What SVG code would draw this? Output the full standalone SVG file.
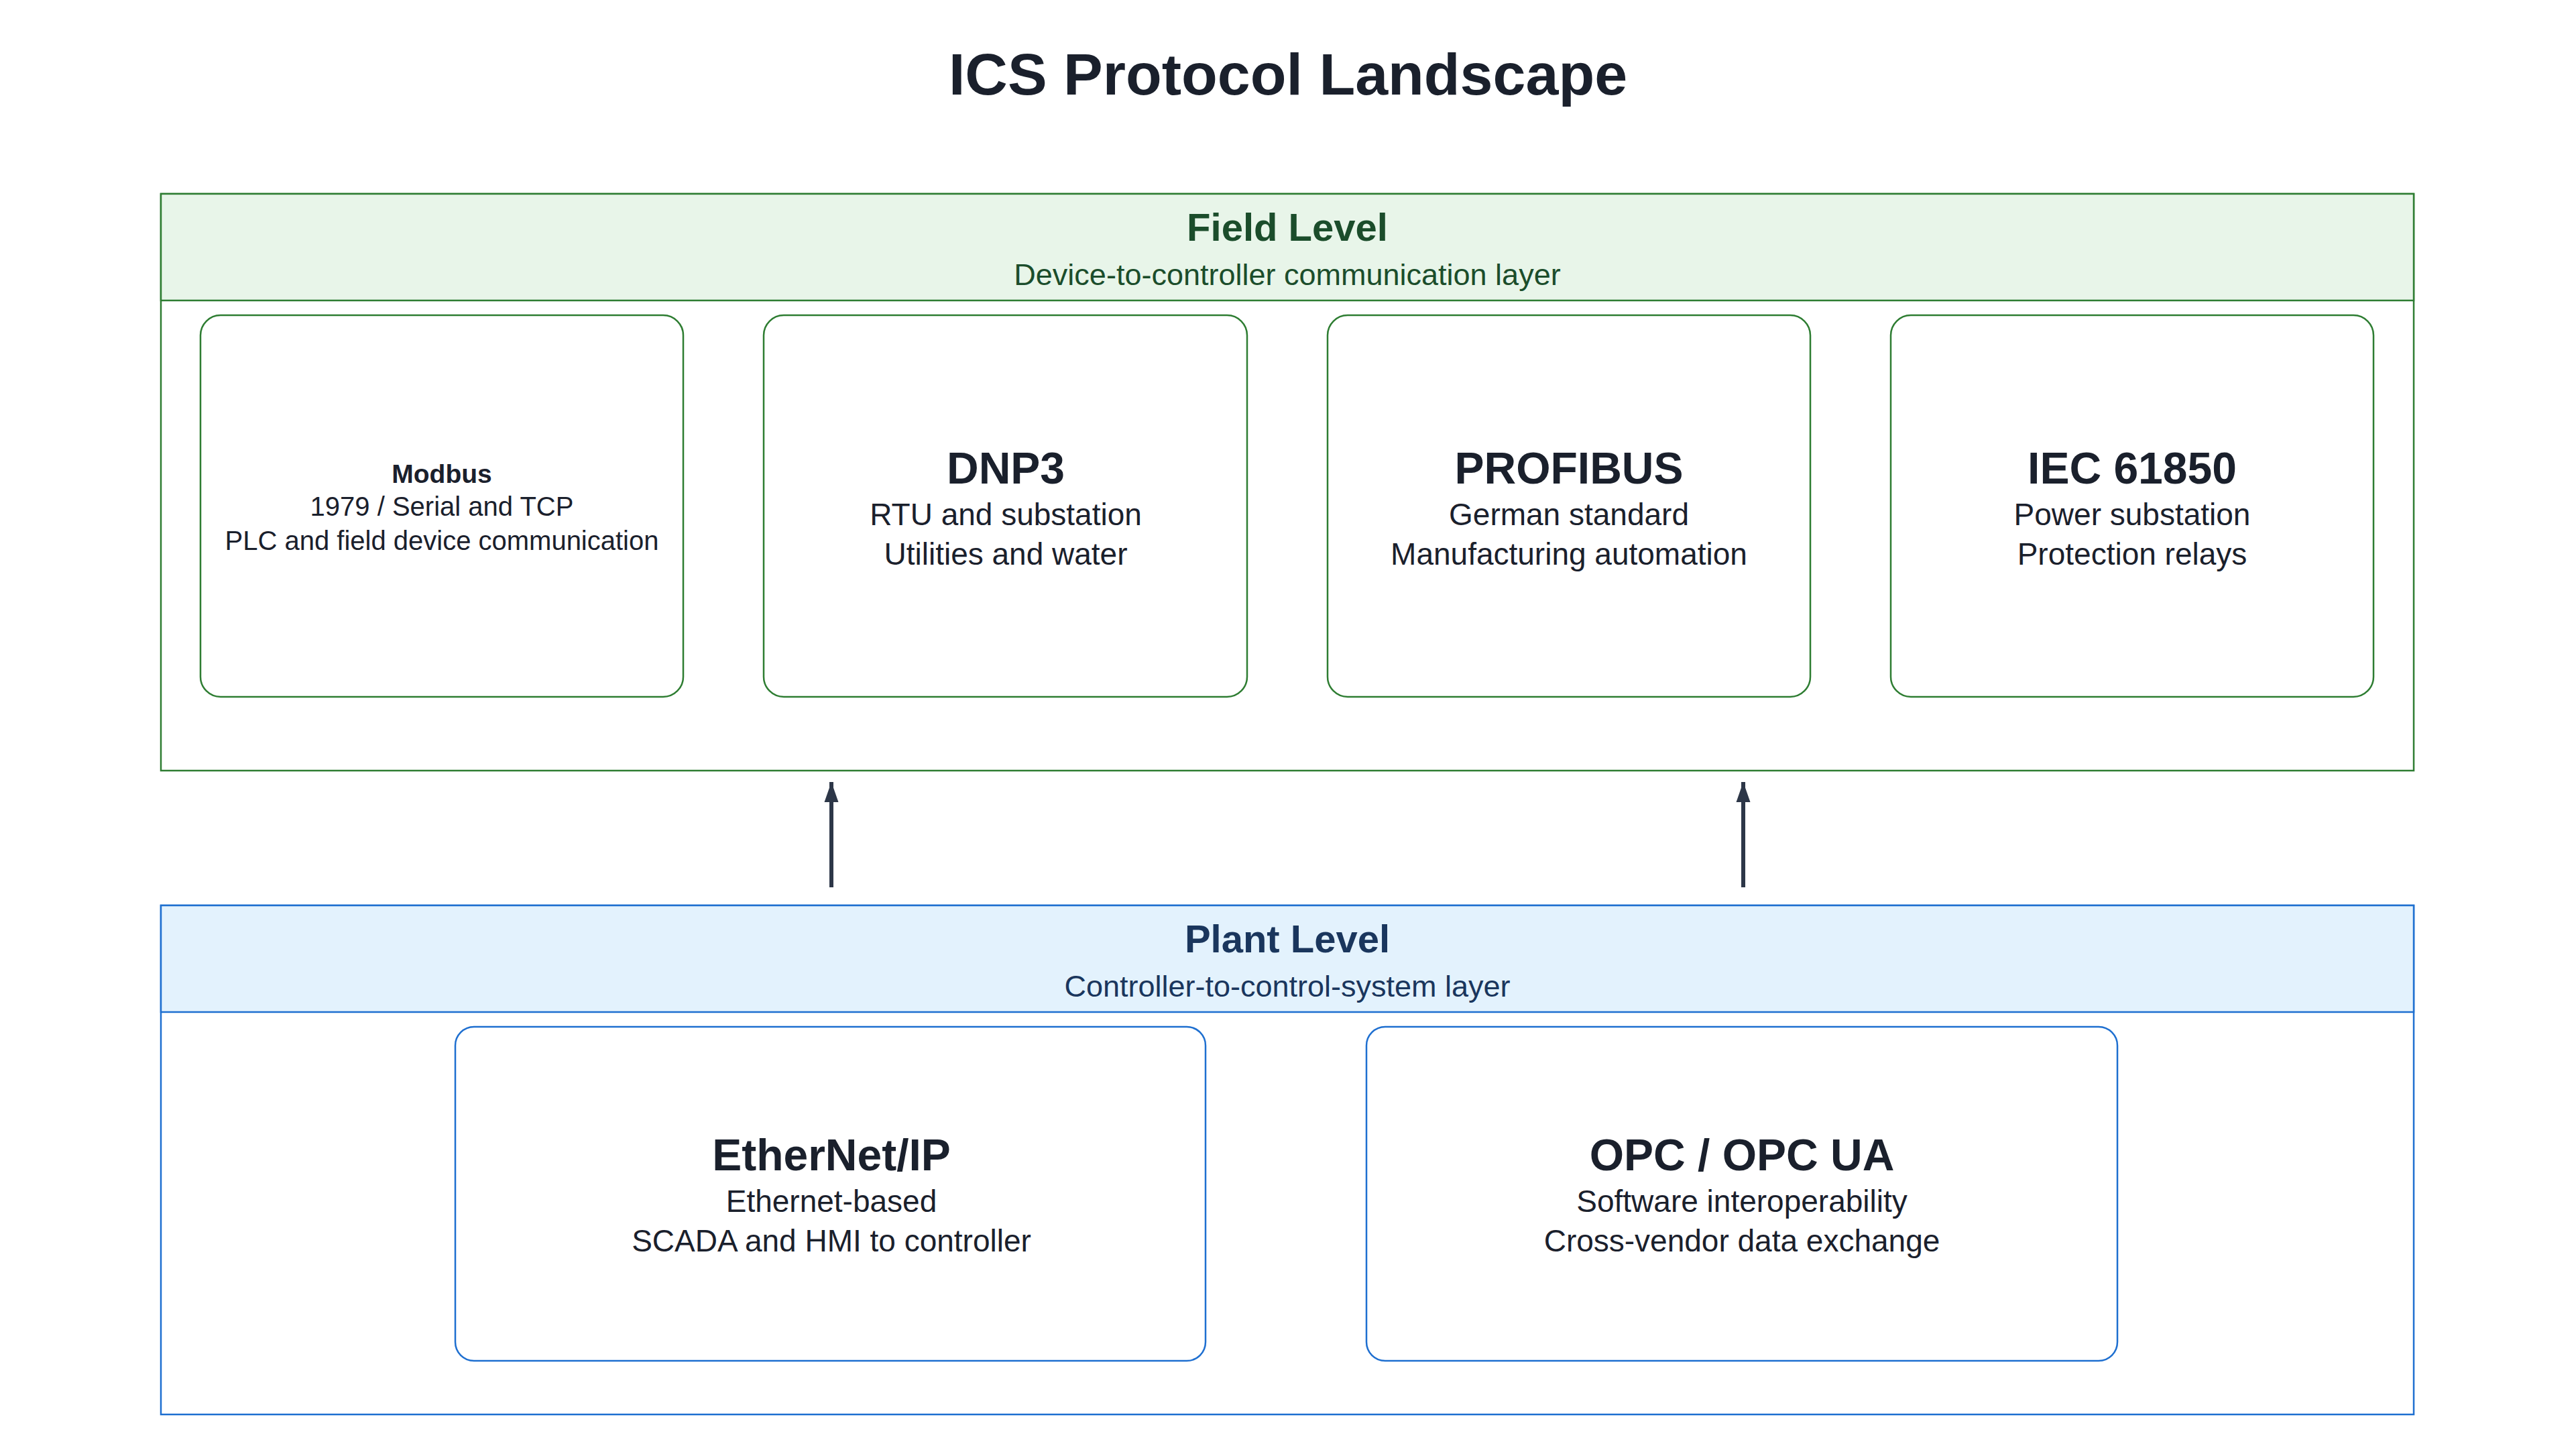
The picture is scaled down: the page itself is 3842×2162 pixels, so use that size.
<svg xmlns="http://www.w3.org/2000/svg" width="3842" height="2162" viewBox="0 0 3842 2162">
<style>
text{font-family:"Liberation Sans",Arial,sans-serif;text-anchor:middle;dominant-baseline:central;fill:#1a202c}
.t{font-size:88px;font-weight:bold}
.gh{font-size:58px;font-weight:900;fill:#1b4d2b}
.bh{font-size:58px;font-weight:900;fill:#1a365d}
.gs{font-size:45px;fill:#1b4d2b}
.bs{font-size:45px;fill:#1a365d}
.n{font-size:66px;font-weight:bold}
.l{font-size:46px}
.sn{font-size:39px;font-weight:bold}
.sl{font-size:40px}
.gb{fill:#fff;stroke:#2e7d32;stroke-width:2.5}
.bb{fill:#fff;stroke:#1e6fd0;stroke-width:2.5}
</style>
<defs><marker id="ah" markerWidth="10" markerHeight="10" refX="8" refY="5" orient="auto" markerUnits="userSpaceOnUse" viewBox="0 0 10 10"><path d="M0,0 L10,5 L0,10z" fill="#2d3748"/></marker>
<marker id="a" viewBox="0 0 10 10" refX="10" refY="5" markerWidth="30" markerHeight="30" markerUnits="userSpaceOnUse" orient="auto"><path d="M0,1.5 L10,5 L0,8.5z" fill="#2d3748"/></marker></defs>
<rect width="3842" height="2162" fill="#fff"/>
<text class="t" x="1921" y="110">ICS Protocol Landscape</text>
<g id="field">
<rect x="240" y="289" width="3360" height="860" fill="#fff" stroke="#2e7d32" stroke-width="2.5"/>
<rect x="240" y="289" width="3360" height="159" fill="#e8f5e9" stroke="#2e7d32" stroke-width="2.5"/>
<text class="gh" x="1920" y="338">Field Level</text>
<text class="gs" x="1920" y="409">Device-to-controller communication layer</text>
</g>
<g id="modbus"><rect class="gb" x="299" y="470" width="720" height="569" rx="30"/>
<text class="sn" x="659" y="706">Modbus</text><text class="sl" x="659" y="755">1979 / Serial and TCP</text><text class="sl" x="659" y="806">PLC and field device communication</text></g>
<g id="dnp3"><rect class="gb" x="1139" y="470" width="721" height="569" rx="30"/>
<text class="n" x="1500" y="698">DNP3</text><text class="l" x="1500" y="767">RTU and substation</text><text class="l" x="1500" y="826">Utilities and water</text></g>
<g id="profibus"><rect class="gb" x="1980" y="470" width="720" height="569" rx="30"/>
<text class="n" x="2340" y="698">PROFIBUS</text><text class="l" x="2340" y="767">German standard</text><text class="l" x="2340" y="826">Manufacturing automation</text></g>
<g id="iec61850"><rect class="gb" x="2820" y="470" width="720" height="569" rx="30"/>
<text class="n" x="3180" y="698">IEC 61850</text><text class="l" x="3180" y="767">Power substation</text><text class="l" x="3180" y="826">Protection relays</text></g>
<g id="plant">
<rect x="240" y="1350" width="3360" height="759" fill="#fff" stroke="#1e6fd0" stroke-width="2.5"/>
<rect x="240" y="1350" width="3360" height="159" fill="#e3f2fd" stroke="#1e6fd0" stroke-width="2.5"/>
<text class="bh" x="1920" y="1399">Plant Level</text>
<text class="bs" x="1920" y="1470">Controller-to-control-system layer</text>
</g>
<g id="ethernetip"><rect class="bb" x="679" y="1531" width="1119" height="498" rx="28"/>
<text class="n" x="1240" y="1722">EtherNet/IP</text><text class="l" x="1240" y="1791">Ethernet-based</text><text class="l" x="1240" y="1850">SCADA and HMI to controller</text></g>
<g id="opc"><rect class="bb" x="2038" y="1531" width="1120" height="498" rx="28"/>
<text class="n" x="2598" y="1722">OPC / OPC UA</text><text class="l" x="2598" y="1791">Software interoperability</text><text class="l" x="2598" y="1850">Cross-vendor data exchange</text></g>
<g id="connectors" stroke="#2d3748" stroke-width="6" fill="none">
<line x1="1240" y1="1323" x2="1240" y2="1166" marker-end="url(#a)"/>
<line x1="2600" y1="1323" x2="2600" y2="1166" marker-end="url(#a)"/>
</g>
</svg>
